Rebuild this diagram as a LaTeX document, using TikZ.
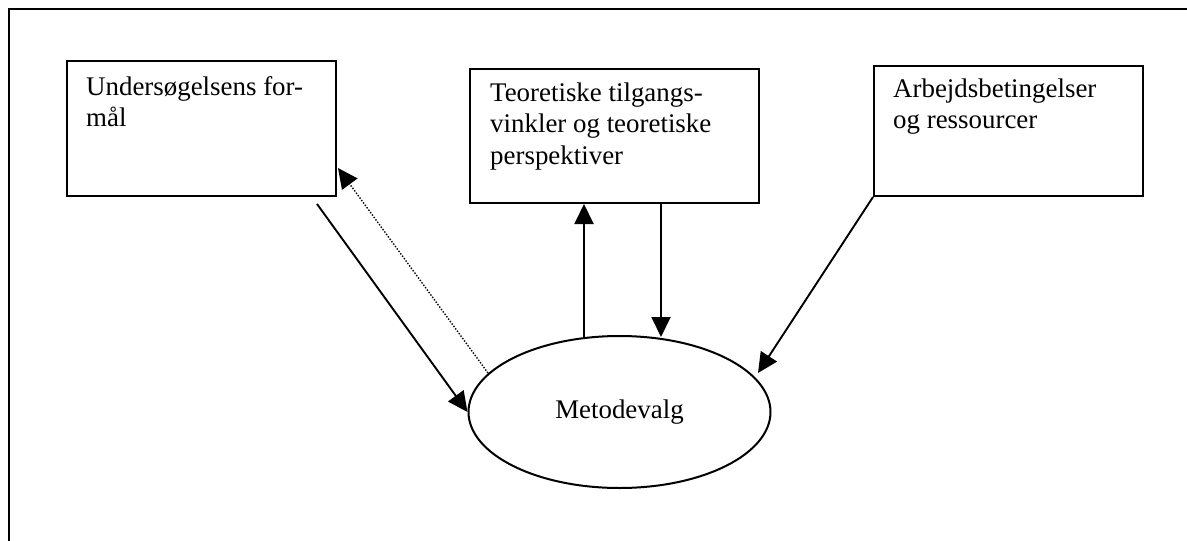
\documentclass[tikz,border=0pt]{standalone}
\usepackage{fontspec}
\setmainfont{Liberation Serif}
\usetikzlibrary{arrows.meta,shapes.geometric,calc}

\begin{document}
\begin{tikzpicture}[x=1pt,y=-1pt,
  boxstyle/.style={draw,line width=2pt,rectangle,inner sep=0pt,anchor=north west},
  label/.style={anchor=base west,align=left,inner sep=0pt,
                font=\fontsize{26.9}{31.5}\selectfont},
  arrowline/.style={line width=1.9pt,-{Triangle[length=20pt,width=19pt]}},
  dotline/.style={line width=1.4pt,dash pattern=on 1.4pt off 1.6pt,
                  -{Triangle[length=20pt,width=19pt]}}
]
  % page area
  \useasboundingbox (0,0) rectangle (1187,541);

  % open frame: top and left edges only
  \draw[line width=2.6pt] (9,541) -- (9,9) -- (1187,9);

  % three input boxes
  \node[boxstyle,minimum width=269pt,minimum height=135pt] (formaal) at (66,60) {};
  \node[boxstyle,minimum width=289pt,minimum height=134pt] (teori) at (469,68) {};
  \node[boxstyle,minimum width=269pt,minimum height=130pt] (ressourcer) at (873,65) {};

  % box texts (placed by the baseline of their last line)
  \node[label] (tA) at (86,126.5) {Undersøgelsens for-\\mål};
  \node[label] (tB) at (490,164) {Teoretiske tilgangs-\\vinkler og teoretiske\\perspektiver};
  \node[label] (tC) at (893,128.5) {Arbejdsbetingelser\\og ressourcer};

  % central method choice
  \node[draw,ellipse,line width=2pt,minimum width=302pt,minimum height=152pt,
        inner sep=0pt,font=\fontsize{26.9}{31}\selectfont] (metode) at (619.5,412) {Metodevalg};

  % connector end points
  \coordinate (a1) at ($(formaal.south east)+(-20,7)$);
  \coordinate (a2) at ($(formaal.south east)+(1,-29)$);
  \coordinate (m1) at (488,373);
  \coordinate (b1) at ($(teori.south west)+(115,0)$);
  \coordinate (b2) at ($(teori.south west)+(192,0)$);
  \coordinate (m2) at (584,337);
  \coordinate (m3) at (661,337);
  \coordinate (m4) at (758,373);

  % connectors
  \draw[arrowline] (a1) -- (metode.west);
  \draw[dotline] (m1) -- (a2);
  \draw[arrowline] (m2) -- (b1);
  \draw[arrowline] (b2) -- (m3);
  \draw[arrowline] (ressourcer.south west) -- (m4);
\end{tikzpicture}
\end{document}
